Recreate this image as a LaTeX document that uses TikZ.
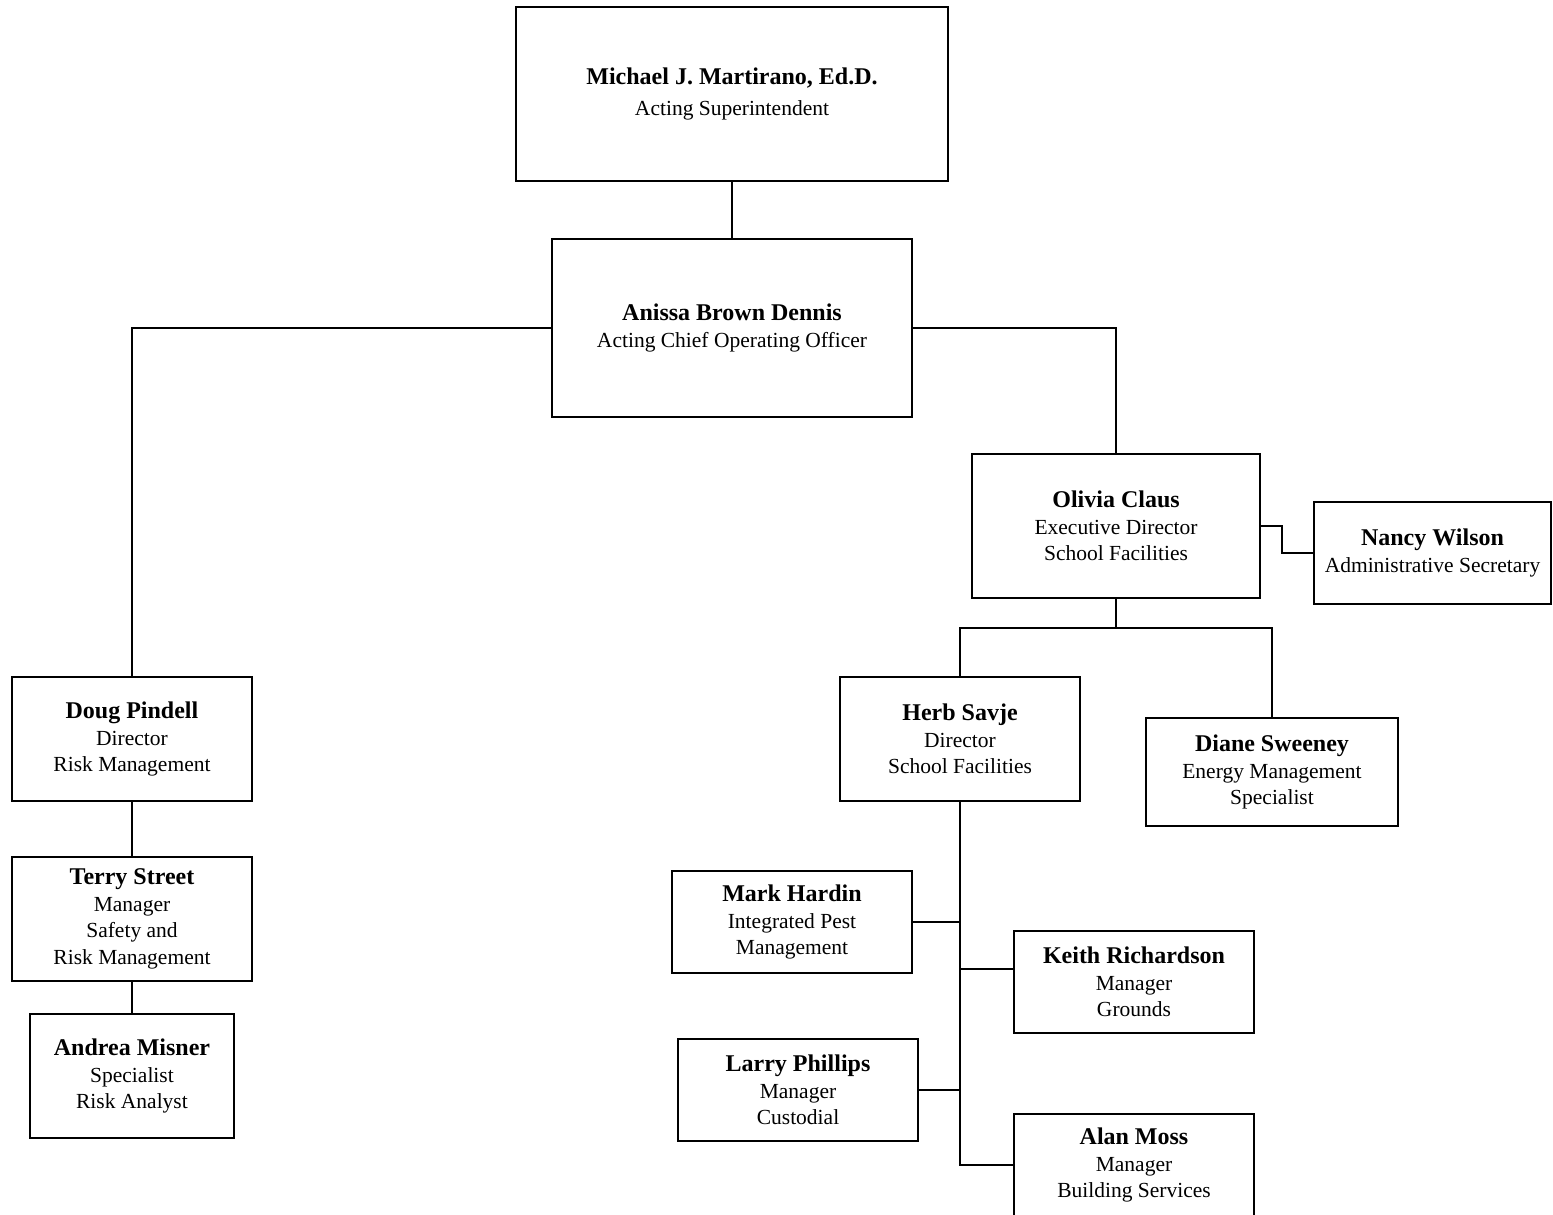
\documentclass[tikz,border=0pt]{standalone}
\usepackage{fontspec}
\setmainfont{Liberation Serif}
\newcommand{\nm}[1]{{\fontsize{24}{26.5}\selectfont\bfseries #1}}
\begin{document}
\begin{tikzpicture}[x=1pt,y=-1pt,
  box/.style={draw, line width=2.2pt, align=center, inner sep=0pt, outer sep=0pt,
    font=\fontsize{21.5}{26.5}\selectfont},
  conn/.style={line width=2.2pt}]
\useasboundingbox (0,0) rectangle (1553,1215);
\node[box, minimum width=432, minimum height=174] (michael) at (732,94)
  {\nm{Michael J. Martirano, Ed.D.}\\[4pt]Acting Superintendent};
\node[box, minimum width=360, minimum height=178] (anissa) at (732,328)
  {\nm{Anissa Brown Dennis}\\Acting Chief Operating Officer};
\node[box, minimum width=288, minimum height=144] (olivia) at (1116,526)
  {\nm{Olivia Claus}\\Executive Director\\School Facilities};
\node[box, minimum width=237, minimum height=102] (nancy) at (1432.5,553)
  {\nm{Nancy Wilson}\\Administrative Secretary};
\node[box, minimum width=240, minimum height=124] (doug) at (132,739)
  {\nm{Doug Pindell}\\Director\\Risk Management};
\node[box, minimum width=240, minimum height=124] (terry) at (132,919)
  {\nm{Terry Street}\\Manager\\Safety and\\Risk Management};
\node[box, minimum width=204, minimum height=124] (andrea) at (132,1076)
  {\nm{Andrea Misner}\\Specialist\\Risk Analyst};
\node[box, minimum width=240, minimum height=124] (herb) at (960,739)
  {\nm{Herb Savje}\\Director\\School Facilities};
\node[box, minimum width=252, minimum height=108] (diane) at (1272,772)
  {\nm{Diane Sweeney}\\Energy Management\\Specialist};
\node[box, minimum width=240, minimum height=102] (mark) at (792,922)
  {\nm{Mark Hardin}\\Integrated Pest\\Management};
\node[box, minimum width=240, minimum height=102] (keith) at (1134,982)
  {\nm{Keith Richardson}\\Manager\\Grounds};
\node[box, minimum width=240, minimum height=102] (larry) at (798,1090)
  {\nm{Larry Phillips}\\Manager\\Custodial};
\node[box, minimum width=240, minimum height=102] (alan) at (1134,1165)
  {\nm{Alan Moss}\\Manager\\Building Services};
% connectors
\draw[conn] (michael.south) -- (anissa.north);
\draw[conn] (anissa.west) -| (doug.north);
\draw[conn] (anissa.east) -| (olivia.north);
\draw[conn] (olivia.east) -- ++(22,0) |- (nancy.west);
\draw[conn] (olivia.south) -- ++(0,30) coordinate (ob);
\draw[conn] (herb.north) |- (ob) -| (diane.north);
\draw[conn] (doug.south) -- (terry.north);
\draw[conn] (terry.south) -- (andrea.north);
\draw[conn] (herb.south) -- (herb.south |- alan.west) -- (alan.west);
\draw[conn] (mark.east) -- (mark.east -| herb.south);
\draw[conn] (larry.east) -- (larry.east -| herb.south);
\draw[conn] ([yshift=13pt]keith.west) -- ([yshift=13pt]keith.west -| herb.south);
\end{tikzpicture}
\end{document}
